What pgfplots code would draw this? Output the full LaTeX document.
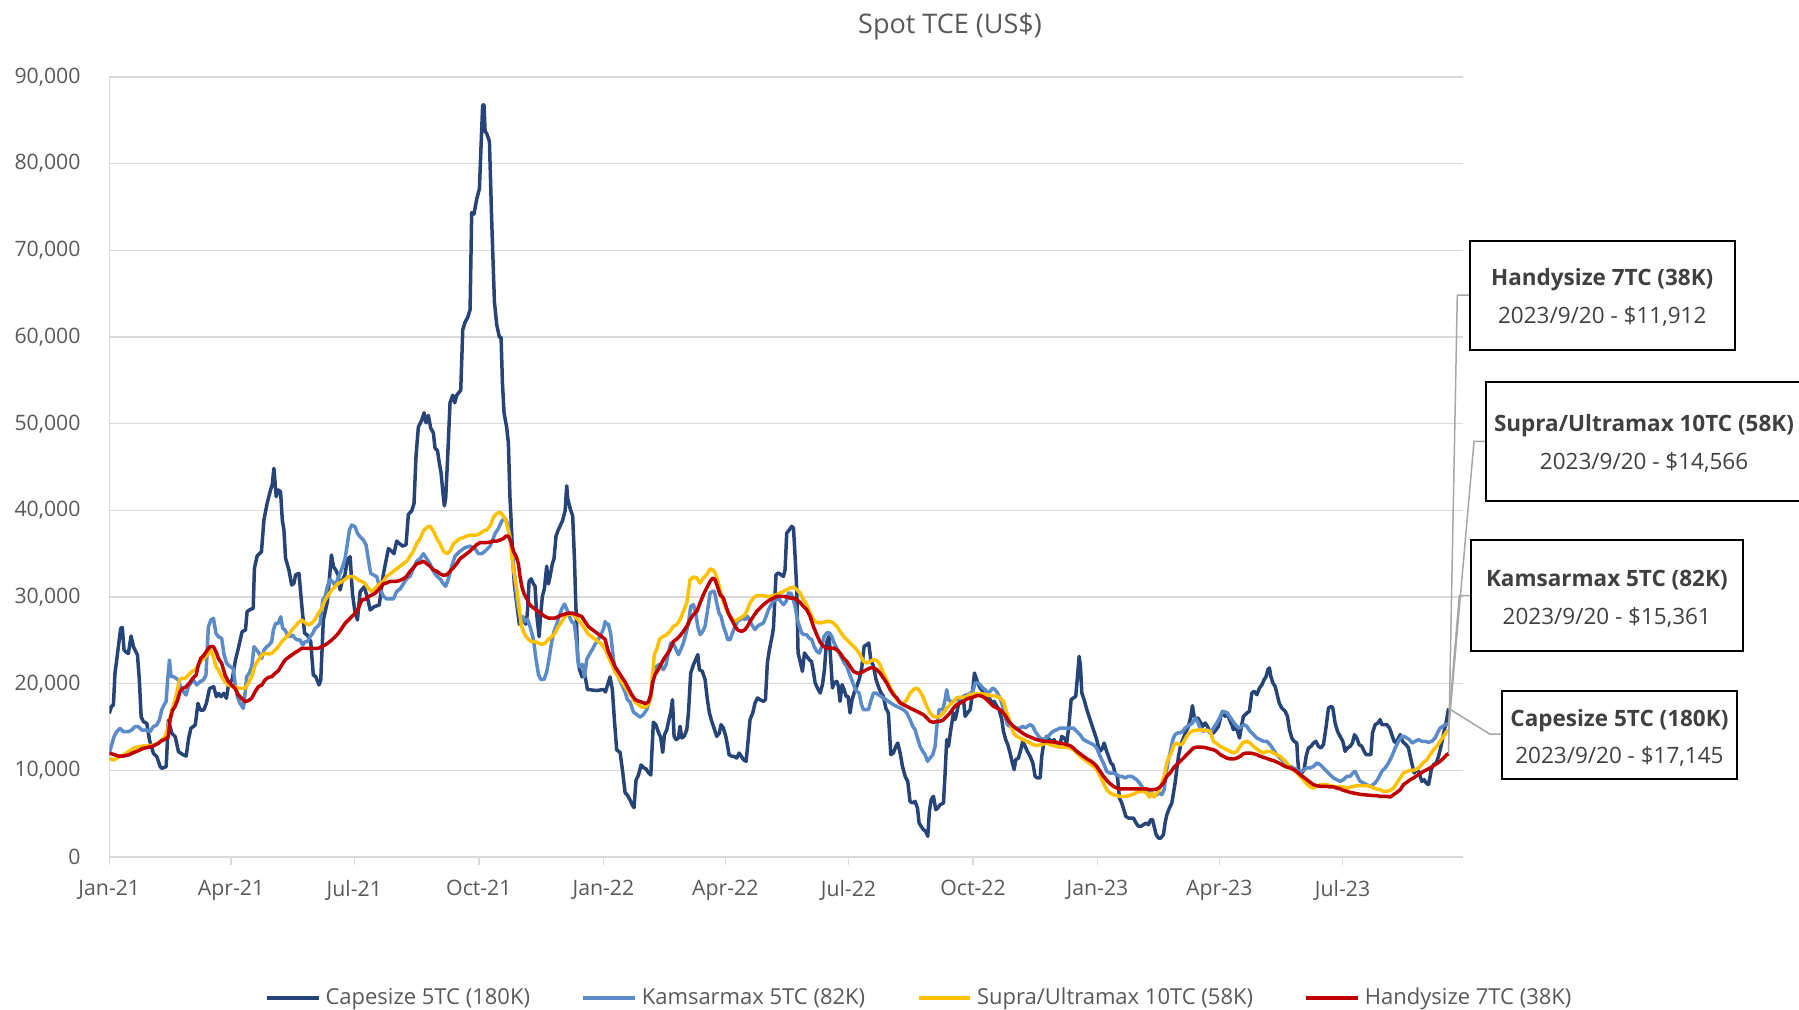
\documentclass[border=0pt]{standalone}
\usepackage{fontspec}
\setmainfont{Open Sans}
\usepackage{pgfplots}
\pgfplotsset{compat=1.18}
\definecolor{cape}{HTML}{264478}
\definecolor{kams}{HTML}{5B8BC8}
\definecolor{supra}{HTML}{FFC000}
\definecolor{handy}{HTML}{C00000}
\definecolor{gridc}{HTML}{D9D9D9}
\definecolor{txt}{HTML}{595959}
\definecolor{boxtxt}{HTML}{404040}
\definecolor{leader}{HTML}{A6A6A6}
\begin{document}
\begin{tikzpicture}[x=0.4pt,y=0.4pt]
\useasboundingbox (0,0) rectangle (1799,1009);
\begin{axis}[
  at={(43.72pt,60.8pt)}, anchor=south west,
  scale only axis, width=541.48pt, height=312pt,
  xmin=0, xmax=1000, ymin=0, ymax=90000,
  axis x line=bottom, axis y line=left,
  axis line style={-, draw=gridc, line width=0.6pt},
  ymajorgrids, major grid style={draw=gridc, line width=0.6pt},
  xtick={0,90,181,273,365,455,546,638,730,820,911},
  xticklabels={Jan-21,Apr-21,Jul-21,Oct-21,Jan-22,Apr-22,Jul-22,Oct-22,Jan-23,Apr-23,Jul-23},
  ytick={0,10000,...,90000},
  xtick style={draw=gridc, line width=0.6pt},
  ytick style={draw=none},
  tick align=outside, major tick length=3pt,
  scaled y ticks=false,
  /pgf/number format/.cd, 1000 sep={,}, assume math mode=true, /pgfplots/.cd,
  tick label style={font=\fontsize{8.5}{10}\selectfont, text=txt},
  yticklabel style={xshift=-5pt},
  xticklabel style={yshift=-2.8pt},
  legend style={at={(0.5995,-0.181)}, anchor=center, legend columns=4, draw=none, fill=none,
    font=\fontsize{8.8}{10}\selectfont, text=txt,
    /tikz/every even column/.append style={column sep=18.6pt}},
  legend image code/.code={\draw[#1, line width=1.4pt] (0pt,0pt) -- (20.7pt,0pt);},
  every axis plot/.append style={line width=1.4pt, line join=round, mark=none},
]
\addplot[cape] coordinates {
(0,16580)(1.7,17420)(3,17500)(4.2,21190)(6.7,24270)(8.4,26380)(9.6,26500)(10.9,23880)(12.8,23580)(14.1,23500)(16.1,25500)(17.8,24270)(20.8,23310)(22.2,20420)(23.5,16190)(25.2,15620)(27.7,15420)(29.7,13500)(32.6,11960)(35.1,11580)(37.6,10420)(38.8,10230)(42,10420)(43.7,15810)(46.2,14270)(48.7,13880)(51.1,12150)(54.9,11770)(56.8,11650)(58.6,13690)(60.3,14850)(63.5,15230)(65.5,17730)(67.2,16960)(69.7,16960)(71.7,17730)(74.1,19460)(77.1,19650)(79.1,18500)(80.8,18880)(82.5,18500)(84.5,18880)(86.5,18310)(88.2,20040)(90.7,20420)(93.2,22730)(95.6,24270)(98.1,26000)(100.6,26190)(101.8,28310)(104.3,28580)(106.3,28690)(107.2,33310)(109.2,34730)(112.4,35230)(114.2,38880)(116.6,40810)(119.1,42350)(120.3,42920)(121.6,44840)(123.3,41580)(124.8,42350)(126.5,42150)(127.8,38880)(129,37730)(130.2,34460)(132.7,33110)(134.7,31380)(136.4,31580)(137.6,32540)(140.1,32730)(142.6,28310)(144.3,25810)(146.3,25610)(148.8,24850)(150.7,21000)(152.5,20810)(154.9,19850)(156.2,20420)(158.1,27350)(161.1,29460)(164.1,34850)(165.6,33500)(167.3,33110)(169,32540)(170.5,30810)(172.2,31960)(174,32540)(175.9,34270)(177.9,34650)(179.6,30420)(181.4,28310)(183.3,27350)(185.3,30610)(188.3,31190)(190.8,29850)(192.7,28500)(195.7,28880)(199.4,29080)
(202.5,32680)(206.2,35580)(208.6,35290)(210.3,35000)(212.3,36450)(214.3,36160)(216.7,35870)(219.2,36040)(220.9,39530)(223.4,39930)(225.1,40800)(226.6,46320)(228.3,49620)(230.8,50380)(232.5,51250)(234,50090)(235.7,50960)(237.4,49510)(239.4,48930)(240.6,47190)(242.4,46900)(243.8,45450)(245.1,44290)(246.3,42250)(247.5,40510)(248.5,41380)(250,46320)(251.7,52410)(253.7,53280)(255.2,52410)(256.6,53280)(259.6,53860)(261.1,60830)(262.8,61700)(264.8,62280)(266.5,63150)(267.7,74350)(269.4,74180)(271.4,75920)(273.4,77080)(274.6,82010)(275.8,86770)(276.8,86770)(277.6,83750)(278.8,83460)(280.8,82590)(282.5,73300)(284.5,64020)(286.2,61410)(288.2,59960)(289.4,59960)(290.4,54730)(291.6,51250)(293.6,49510)(294.8,47770)(296,41380)(297.3,37320)(298,34420)(299.2,31520)(301,29190)(302.9,26870)(304.2,27160)(305.9,27450)(307.6,26870)(308.8,28030)(310.1,31810)(311.6,32100)(313.3,31520)(314.5,31230)(315.7,28030)(317.5,25420)(318.7,28030)(319.9,30070)(321.4,30940)(323.1,33550)(324.4,31520)(325.6,32390)(327.3,33840)(328.5,34420)(330,37030)(331.3,37610)(333,38190)(334.7,38770)(336.7,39930)(337.9,42830)(338.6,41380)(340.4,40220)(342.3,39350)(343.6,34420)(344.6,29190)(346,23100)(347.3,21650)(349.2,20780)(350.7,21360)(351.9,20490)(353.2,19330)(360.1,19210)(365,19330)(366.5,19040)(368.2,19910)(369.9,20780)(371.6,19330)(373.1,15850)(374.8,12360)(377.3,12070)(379.3,9750)(381,7430)(382.7,7140)(384.7,6560)(386.4,5980)(387.6,5690)(389.1,8880)(390.9,9460)(392.8,10620)(394.5,10330)(396.5,10160)(398.2,9750)(400,9460)(401.9,15560)(403.7,15270)(405.6,14390)(407.3,13810)(408.8,12070)(410.1,14100)(411.8,14680)(413.8,16140)
(414.7,16620)(416,18150)(417.2,13920)(418.7,13540)(420.4,13730)(421.6,15080)(422.9,13730)(424.6,13920)(426.6,14690)(427.8,16620)(429.5,21230)(431.5,22190)(433.2,22770)(434.7,23350)(435.9,21620)(438.1,21420)(440.1,20460)(441.8,18150)(443.3,16620)(445,15650)(446.7,14880)(448.7,13920)(450.7,14310)(451.9,15270)(453.6,14880)(455.4,13920)(456.6,12960)(457.8,11810)(459.8,11620)(461.5,11620)(463.5,11420)(465.2,12000)(466.9,11620)(468.4,11230)(470.4,11040)(471.6,12960)(473.3,15850)(475.3,16620)(477,17770)(478.8,18350)(480.7,18150)(483.2,17960)(484.7,18150)(486.1,22380)(487.6,23920)(489.6,25460)(490.6,26420)(492.5,32580)(494.3,32770)(496,32580)(498,32380)(499.2,33150)(500.4,37380)(502.4,37770)(504.1,38150)(505.4,37960)(506.6,34690)(507.8,30850)(508.8,23540)(510.3,22580)(512,21420)(513.5,23540)(515.2,23150)(517,22770)(518.7,22580)(520.1,21420)(521.4,20080)(523.1,19500)(525.1,18920)(526.8,19880)(528.3,21620)(529.5,24310)(530.5,25080)(531.7,25460)(532.9,22770)(534.2,19500)(535.4,20080)(537.4,20270)(538.6,19690)(539.8,17960)(541.3,19880)(542.8,19310)(544.3,18540)(545.7,18540)(547.2,16620)(548.7,18150)(550.2,18920)(552.1,19690)(553.9,20460)(555.8,21810)(557.6,24310)(559.5,24500)(561,24690)(562.5,22770)(564.5,22000)(566.4,20460)(568.1,19690)(570.1,18920)(571.8,18540)(573.6,17190)(575.5,16620)(577.3,11810)(579.2,12000)(581,12770)(582.4,13150)(584.2,12000)(585.9,10460)(587.9,9310)(589.8,8730)(591.5,6420)(593.3,6230)(595.2,6420)(597,5650)(598.2,3920)(599.7,3540)(601.4,3150)(603.1,2960)(604.6,2390)(605.8,5270)(607.1,6620)(608.8,7000)(610.5,5460)(612,5650)(613.7,6040)
(616.2,6230)(617.4,9690)(618.6,13540)(619.9,12770)(621.6,14690)(623.6,16620)(624.8,15850)(626,16620)(627.2,17580)(629,18150)(631,18150)(632.2,16230)(633.9,16620)(635.9,17000)(637.6,18920)(639.1,21230)(640.3,20650)(641.5,20080)(643.3,19500)(645.2,19120)(647,18540)(648.2,18150)(650.1,18350)(651.9,17770)(653.6,17960)(655.6,17380)(657.3,17000)(659.3,15850)(660.5,14500)(662.2,13540)(663.7,12960)(665.4,12000)(667.1,10850)(668.4,10080)(669.6,11230)(671.6,11420)(673.3,12380)(674.8,13350)(676.5,12770)(678.2,12190)(680.2,11620)(682.2,10850)(683.9,9310)(685.6,9120)(687.6,9120)(688.8,11620)(690.5,13350)(692.5,13920)(694.5,13540)(696.2,13350)(697.9,13540)(699.9,12770)(701.9,12770)(703.6,13920)(705.3,13730)(707.3,13230)(708.8,15080)(710.5,18150)(712.2,18350)(713.9,18540)(715.2,20850)(716.4,23150)(717.4,22000)(718.4,18920)(720.1,18150)(722.1,17000)(724.5,15850)(727,14690)(729.4,13540)(731.4,12190)(733.1,12380)(734.9,13150)(736.3,12380)(738.1,11620)(739.8,10850)(741.3,10650)(743,9690)(744.7,9310)(746.2,6810)(747.9,6230)(749.1,5650)(750.9,4690)(752.8,4500)(754.6,4500)(756.5,4500)(758.5,3920)(760.2,3540)(762.2,3540)(763.9,3730)(765.9,3920)(767.6,3730)(769.3,4310)(770.6,4310)(771.8,3540)(773.3,2580)(775,2190)(776.7,2190)(778.7,2580)(779.9,3920)(781.2,4890)(783.1,5650)(784.9,6230)(786.1,7380)(787.3,8540)(788.5,10080)(789.8,11620)(791.5,12960)(793.5,13730)(795.4,14500)(797.2,15080)(798.9,16230)(800.1,17460)(801.4,16230)(802.6,15850)(804.1,16040)
(807.8,15080)(809.5,15460)(811.2,15080)(813.2,14310)(815.6,14310)(817.6,14690)(819.3,15080)(821.1,16230)(822.5,16810)(824.3,16230)(826,16620)(827.5,15850)(829.2,15270)(830.4,14690)(832.1,15080)(833.4,14500)(834.9,13730)(836.3,15080)(837.8,16230)(840.3,16620)(842.2,16810)(844,18920)(845.7,19120)(847.7,18730)(849.6,19500)(851.4,19880)(853.1,20460)(854.6,20850)(855.8,21620)(857,21810)(858,20850)(859.5,20080)(861.2,19690)(862.4,18920)(864.2,17770)(866.1,17190)(868.6,16810)(870.3,16230)(871.8,14690)(873.5,13730)(875.2,13350)(877.2,13150)(877.9,11230)(878.7,9880)(880.9,9690)(882.6,10080)(884.1,11620)(885.8,12580)(887.8,12770)(889.5,13150)(891.3,13350)(893.2,12770)(895,12580)(896.9,12960)(898.9,15080)(900.6,17190)(902.6,17380)(903.8,17190)(905.5,15460)(907.3,14500)(909.2,13920)(911.2,13350)(912.9,12190)(914.6,12580)(916.6,12770)(918.3,13150)(919.8,14120)(921.5,13730)(923.3,12960)(925.2,12770)(927,12190)(928.4,11810)(930.2,11810)(931.9,11810)(933.1,14310)(935.1,15270)(937.1,15460)(938.8,15850)(940,15270)(941.7,15270)(943.7,15270)(945.7,14880)(947.4,14120)(949.1,13350)(950.6,13150)(952.3,13730)(953.6,14120)(955.3,13350)(956.5,13150)(958,12960)(959.7,12580)(961,11620)(962.7,10460)(963.9,9690)(965.4,10080)(967.1,9880)(968.3,9310)(969.6,8730)(971.3,8920)(972.8,8540)(974.5,8350)(975.7,9310)(976.5,10080)(978.2,10650)(980.2,10850)(981.9,11620)(983.1,12380)(984.8,13540)(986.3,14690)(988,15920)(989.3,17145)
};
\addlegendentry{Capesize 5TC (180K)}
\addplot[kams] coordinates {
(0,11960)(1.7,12920)(3.5,13880)(5.4,14460)(7.9,14850)(10.4,14460)(14.1,14460)(16.5,14650)(19,15040)(21.5,15040)(23.9,14650)(27.6,14650)(30.1,14460)(32.5,15040)(35,15230)(37,15810)(38.7,16960)(40.4,17540)(41.9,17920)(43.1,20420)(44.4,22730)(45.6,20810)(47.3,20810)(49.3,20620)(51,20420)(53,19460)(54.7,19080)(56.7,18690)(58.4,19650)(60.1,20040)(62.1,20420)(64.6,19850)(67,20230)(69.5,20420)(71.4,21000)(73.2,26580)(75.1,27350)(76.9,27540)(78.8,25810)(80.6,25420)(83,25230)(84.8,23310)(86.7,22350)(89.2,21960)(91.6,21770)(92.9,20040)(94.6,18500)(96.6,17730)(99,17150)(100.3,18880)(101.5,20810)(103.2,21190)(105.2,21960)(106.9,24270)(108.9,23880)(110.6,23500)(112.6,22920)(114.3,23880)(116.3,24270)(118,24460)(120,24850)(121.2,26190)(122.9,26960)(124.9,26960)(126.6,27730)(128.1,26380)(129.8,26190)(131.6,25610)(133.5,25420)(135.5,25610)(137.2,25230)(139,25040)(140.9,25040)(142.9,24460)(144.6,24850)(146.3,24850)(148.3,25420)(150.3,25810)(152,26380)(153.7,26580)(155.7,26960)(157.7,29650)(159.4,30040)(161.1,31190)(163.1,32040)(164.8,31770)(166.8,31380)(168.5,31960)(170.5,32730)(172.4,33500)(174.2,34460)(175.9,36190)(177.4,37730)(179.1,38310)(181.5,38110)(183.3,37350)(185.2,36960)(187.7,36580)(189.7,36000)(191.4,34270)(193.1,32730)(195.1,32540)(197.6,32350)
(200,30940)(202.5,30070)(204.9,29780)(207.4,29780)(209.9,29780)(212.3,30650)(214.8,30940)(217.2,31520)(219.7,32100)(222.2,32390)(224.6,33260)(227.1,34130)(229.6,34420)(232,35000)(234.5,34420)(236.9,33840)(239.4,32970)(241.9,32390)(244.3,32100)(246.8,31520)(248.5,31230)(250.5,32100)(252.9,33550)(255.4,34710)(259.1,35290)(262.8,35690)(266.5,35870)(270.2,35580)(272.6,35000)(275.1,35000)(277.6,35290)(281.3,35870)(285,37320)(287.4,37900)(289.9,38770)(292.3,39060)(294.3,38480)(296,37030)(298,34420)(299.7,32100)(301.5,29190)(303.4,27740)(305.4,27740)(307.1,27160)(308.8,27450)(310.8,26580)(313.3,25130)(315.2,22810)(317,21070)(318.7,20490)(321.2,20490)(323.1,21360)(325.1,23100)(326.8,24840)(328.5,26000)(330.5,26870)(332.2,27740)(334.2,28610)(336.2,29190)(337.9,28610)(339.9,27740)(341.6,27160)(343.6,26870)(345.3,24550)(346.5,22230)(347.8,21940)(349.5,22230)(351,20780)(352.7,22810)(354.7,23390)(356.9,23970)(358.8,24550)(361.3,25130)(363.3,25710)(365,26290)(366.2,27160)(367.5,26870)(368.7,26870)(370.4,25710)(372.4,22810)(374.1,21360)(376.1,20780)(378.5,19910)(381,19040)(382.7,18170)(384.7,17880)(387.2,16720)(389.6,16430)(392.1,16140)(394.5,16430)(397,17010)(399.5,18170)(401.9,20490)(403.9,21940)(406.4,22230)
(409.3,21620)(411.3,22190)(413,23540)(414.7,24690)(416.7,24690)(418.7,23920)(420.4,23350)(422.1,23920)(424.1,24690)(426.1,25850)(427.8,27000)(429.5,28920)(431.5,29110)(433.2,28150)(434.7,26620)(436.4,25650)(438.4,26040)(440.1,26620)(441.8,28350)(443.8,30460)(445.5,30650)(447,30650)(448.7,29310)(450.4,28150)(451.9,27770)(453.6,26620)(455.4,25850)(456.8,25080)(458.6,25080)(460.3,25850)(462.3,26620)(464,27190)(466,27380)(467.7,27580)(469.6,27380)(471.4,27770)(473.3,27190)(475.3,26620)(477,26230)(478.8,26620)(480.7,26810)(483.2,27000)(485.2,27770)(486.9,28540)(488.9,29110)(490.6,29500)(492.5,29690)(494.3,29880)(496,29500)(498,29110)(500,29500)(501.7,30460)(503.4,30460)(504.9,29880)(506.6,28920)(508.3,27380)(509.8,26620)(511.5,25850)(513.2,25650)(515.2,25650)(516.9,25270)(518.9,25080)(520.6,24310)(522.6,23730)(524.6,23540)(526.3,24310)(528,25460)(530,25850)(532,25850)(533.7,25460)(535.4,24690)(537.4,24110)(539.1,23540)(541.1,22960)(542.8,22380)(544.8,22000)(546.5,21230)(548.4,20460)(550.2,19690)(552.1,19120)(553.9,18920)(555.6,17580)(557.1,17000)(559,17000)(560.8,17000)(562.5,17960)(564.5,18920)(566.4,18920)(568.1,18730)(570.1,18540)(571.8,18350)(573.8,18150)(575.5,17960)(577.3,17770)(579.2,17580)(581.7,17380)(584.2,17190)(586.6,17000)(589.1,16620)(591.5,15850)(593.5,15080)(595.2,14690)(597,13730)(598.9,12770)(600.9,12190)(602.6,11810)(604.4,11040)(606.3,11420)(608.3,11810)(610,12770)(611.3,15080)(613,17000)
(615.7,17000)(617.4,18150)(618.6,19310)(619.9,18150)(621.6,17960)(623.6,17960)(625.5,18150)(627.2,18150)(629,18150)(631,18540)(632.9,18730)(634.6,18730)(636.4,18920)(638.3,19310)(639.6,20080)(641.3,20080)(643.3,19880)(645.2,19500)(647,19310)(648.7,18920)(650.6,19120)(652.6,19500)(654.3,19310)(656.1,18920)(658,18350)(660,17380)(661.7,16230)(663.4,15270)(665.4,15080)(667.4,15080)(669.1,14880)(670.8,14880)(672.8,14880)(674.8,15080)(676.5,14880)(678.2,15080)(680.2,15270)(682.2,15080)(683.9,14500)(685.6,14120)(687.6,13730)(690,13540)(692,13730)(693.7,13920)(695.7,14310)(697.4,14500)(699.9,14690)(702.4,14880)(704.8,14880)(707.3,14880)(709.7,14880)(712.2,14880)(714.7,14500)(717.1,14120)(719.6,13540)(722,13350)(724.5,13150)(727,12960)(729.4,12580)(731.4,11810)(733.1,11230)(734.9,10650)(736.8,9880)(738.8,9690)(740.5,9690)(742.2,9690)(744.2,9500)(746.2,9310)(747.9,9310)(750.4,9120)(752.8,9310)(755.3,9310)(757,9120)(759,8920)(761,8540)(762.7,8150)(764.4,7770)(766.4,7580)(768.3,7770)(770.1,7380)(771.8,7000)(773.8,7190)(775.7,7380)(777.5,7190)(779.2,7770)(780.7,9690)(782.4,11230)(784.1,12380)(785.6,13540)(787.3,14120)(789,14310)(791,14310)(793,14500)(794.7,14880)(796.4,15080)(798.4,15270)(800.1,15460)(802.1,16040)(803.8,15650)
(805.8,14880)(808.3,14500)(810.7,14690)(813.2,14310)(815.6,14880)(818.1,15460)(820.1,16040)(821.8,16620)(823.5,16810)(825.5,16620)(827.5,16230)(829.2,15850)(830.9,15460)(832.9,15080)(834.9,14880)(836.6,15080)(838.3,15270)(840.3,15080)(842.7,14500)(845.2,14120)(847.7,13730)(850.1,13540)(852.6,13350)(855,13350)(857.5,12960)(860,12380)(862.4,11810)(864.9,11420)(867.4,11040)(869.8,10650)(872.3,10460)(874.8,10270)(877.2,10080)(879.7,9690)(882.1,10080)(884.6,10270)(887.1,10270)(889.5,10460)(892,10850)(894.5,10650)(896.9,10270)(899.4,9880)(901.8,9500)(904.3,9120)(906.8,8920)(909.2,8730)(911.7,8920)(914.2,9310)(916.6,9310)(918.6,9690)(920.3,9880)(922,9310)(924,8730)(926.5,8540)(928.9,8350)(931.4,8150)(933.4,8350)(935.1,8540)(937.6,9120)(940,9880)(942.5,10270)(944.9,10850)(947.4,11620)(949.9,12580)(952.3,13350)(954.8,13920)(956.5,13920)(958.5,13730)(960.4,13540)(962.4,13150)(964.6,13350)(967.1,13540)(969.6,13350)(972,13350)(974.5,13230)(976.9,13350)(979.4,13730)(981.1,14310)(983.1,14880)(985.1,15080)(986.8,15270)(989.3,15361)
};
\addlegendentry{Kamsarmax 5TC (82K)}
\addplot[supra] coordinates {
(0,11380)(3,11190)(6.7,11500)(10.4,11770)(14.1,12150)(17.8,12540)(21.5,12730)(25.1,12810)(28.8,12810)(32.5,12920)(36.2,13120)(38.7,13500)(41.2,13880)(43.6,15040)(45.6,16580)(47.8,17730)(49.8,18880)(51.7,20420)(53.5,20620)(55.9,20620)(58.4,21000)(60.9,21380)(63.3,21580)(65.8,22150)(68.2,22730)(70.7,23040)(73.2,23500)(74.9,23880)(76.9,23120)(78.8,21960)(80.6,21580)(83,20810)(85.5,20230)(88,19850)(90.4,19650)(92.9,19650)(95.3,19460)(97.8,19460)(100.3,19460)(102.7,20040)(105.2,20810)(107.7,22150)(110.1,22730)(112.6,23310)(115,23500)(117.5,23420)(120,23500)(122.4,23880)(124.9,24270)(127.4,24850)(129.8,25230)(132.3,25610)(134.8,26190)(137.2,26580)(139.7,27040)(142.1,27350)(144.6,27040)(147.1,26770)(149.5,26960)(152,27420)(154.5,28120)(156.9,28690)(159.4,29650)(161.8,30230)(164.3,30810)(166.8,31190)(169.2,31580)(171.7,31770)(174.2,32040)(176.6,32350)(179.1,32350)(181.5,32270)(184,31960)(186.5,31770)(188.9,31580)(191.4,31000)(193.9,30610)(196.3,31000)(198.8,31380)
(202.5,31810)(204.9,32390)(207.4,32680)(209.9,32970)(212.3,33260)(214.8,33550)(217.2,33840)(219.7,34130)(222.2,34710)(224.6,35290)(227.1,36160)(229.6,36740)(232,37610)(234.5,38020)(236.9,38190)(239.4,37610)(241.9,36740)(244.3,36160)(246.8,35290)(249.3,35000)(251.7,35290)(254.2,36160)(256.6,36450)(259.1,36740)(261.6,36860)(264,37030)(266.5,37150)(269,37150)(271.4,37150)(273.9,37320)(276.3,37610)(278.8,37730)(281.3,38190)(283.7,39180)(286.2,39640)(288.7,39760)(291.1,39350)(293.1,38770)(294.8,37610)(296.5,36160)(298,33840)(299.7,32100)(301.5,30360)(302.9,28610)(304.2,26870)(305.9,26000)(307.9,25420)(309.6,25130)(312,24840)(314.5,24840)(317,24670)(319.4,24550)(321.9,24670)(324.4,25130)(326.8,25420)(329.3,25830)(331.7,26580)(334.2,27160)(336.7,27740)(339.1,28030)(341.6,28030)(344.1,27740)(346.5,27340)(349,26870)(351.4,26290)(353.9,25710)(356.4,25420)(358.8,25130)(361.3,24840)(363.8,24550)(366.2,23970)(368.7,23100)(371.2,22230)(373.6,21360)(376.1,20780)(378.5,20200)(381,19620)(383.5,19040)(385.9,18460)(388.4,17880)(390.9,17590)(393.3,17300)(395.8,17300)(398.2,17590)(400,18460)(401.4,21360)(402.7,23390)(404.4,23970)(406.4,25130)
(409.3,25460)(411.8,25650)(414.2,26040)(416.7,26620)(419.2,26810)(421.6,27380)(424.1,28350)(426.6,29310)(429,32000)(431.5,32310)(434,32190)(436.4,31610)(438.9,32190)(441.3,32580)(443.8,33230)(445.8,33150)(447.5,32770)(449.2,32000)(451.2,30850)(453.1,29690)(454.9,28920)(456.8,28150)(458.6,27770)(460.5,27380)(462.3,27190)(464,27380)(466,27580)(467.9,27770)(469.6,27960)(471.4,28540)(473.3,29310)(475.8,29880)(478.3,30150)(480.7,30150)(483.2,30150)(485.7,30080)(488.1,30080)(490.6,30150)(493,30270)(495.5,30460)(498,30650)(500.4,30850)(502.9,31040)(505.4,31150)(507.8,30850)(510.3,30460)(512.7,29690)(515.2,29110)(517.7,28150)(520.1,27380)(522.6,27080)(525.1,27000)(527.5,27080)(530,27190)(532.4,27190)(534.9,27000)(537.4,26620)(539.8,26040)(542.3,25460)(544.8,25080)(547.2,24690)(549.7,24310)(552.1,23920)(554.6,23350)(557.1,22580)(559.5,22380)(562,22580)(564.5,22770)(566.9,22690)(569.4,22190)(571.8,21230)(574.3,20460)(576.8,19500)(579.2,18920)(581.7,18150)(584.2,17770)(586.6,17690)(589.1,18150)(591.5,18920)(594,19310)(596.5,19500)(598.9,19120)(601.4,18350)(603.9,17380)(606.3,16620)(608.8,16230)(611.3,16150)
(613.7,16230)(616.2,16620)(618.6,17190)(621.1,17580)(623.6,17960)(626,18350)(628.5,18460)(630.9,18350)(633.4,18540)(635.9,18730)(638.3,18810)(640.8,18850)(643.3,18850)(645.7,18810)(648.2,18730)(650.6,18620)(653.1,18620)(655.6,18540)(658,18350)(660.5,17960)(663,16620)(665.4,15460)(667.9,14310)(670.3,13920)(672.8,13730)(675.3,13540)(677.7,13350)(680.2,13150)(682.7,12960)(685.1,12850)(687.6,12960)(690,13040)(692.5,13150)(695,12960)(697.4,12850)(699.9,12770)(702.4,12690)(704.8,12690)(707.3,12690)(712.2,12380)(714.7,12000)(717.1,11620)(719.6,11310)(722,11040)(724.5,10770)(727,10460)(729.4,10080)(731.9,9310)(734.4,8540)(736.8,7770)(739.3,7380)(741.8,7190)(744.2,7080)(746.7,7000)(749.1,7000)(751.6,7000)(754.1,7120)(756.5,7270)(759,7460)(761.5,7580)(763.9,7580)(766.4,7380)(768.3,6920)(770.1,7380)(771.8,6920)(773.8,7380)(775.7,7770)(777.5,8540)(779.2,9310)(781.2,10850)(783.1,11620)(784.9,12190)(786.6,12960)(788.5,13150)(790.5,12960)(792.2,12960)(793.9,13350)(795.9,13920)(797.9,14310)(799.6,14500)(801.3,14620)(803.3,14620)
(805.8,14690)(808.3,14620)(810.7,14620)(813.2,14500)(815.6,13350)(818.1,13080)(820.6,12770)(823,12580)(825.5,12380)(828,12190)(830.4,12000)(832.9,12190)(835.4,12770)(837.8,13230)(840.3,13350)(842.7,13150)(845.2,12770)(847.7,12460)(850.1,12190)(852.6,12000)(855,12190)(857.5,12190)(860,12000)(862.4,11810)(864.9,11620)(867.4,11230)(869.8,10850)(872.3,10270)(874.8,10080)(877.2,9690)(879.7,9310)(882.1,8920)(884.6,8460)(887.1,8080)(889.5,7960)(892,8150)(894.5,8350)(896.9,8350)(899.4,8350)(901.8,8230)(904.3,8150)(906.8,8080)(909.2,8150)(911.7,8080)(914.2,7960)(916.6,8040)(919.1,8150)(921.5,8230)(924,8230)(926.5,8230)(928.9,8230)(931.4,8150)(933.9,7960)(936.3,7850)(938.8,7770)(941.2,7580)(943.7,7580)(946.2,7690)(948.6,7960)(951.1,8540)(953.6,9120)(956,9690)(958.5,9880)(961,10000)(963.4,10000)(965.9,10150)(968.3,10460)(970.8,10920)(973.3,11230)(975.7,11810)(978.2,12380)(980.6,12770)(983.1,13350)(985.6,13920)(988,14500)(989.3,14566)
};
\addlegendentry{Supra/Ultramax 10TC (58K)}
\addplot[handy] coordinates {
(0,11960)(3,11850)(6.7,11650)(10.4,11650)(14.1,11770)(17.8,12040)(21.5,12270)(25.1,12540)(28.8,12650)(32.5,12810)(36.2,13120)(38.7,13420)(41.2,13580)(43.6,13880)(44.8,15810)(46.8,16960)(48.5,17350)(50.5,18120)(52.2,19080)(54.2,19460)(56.7,19650)(59.1,20040)(61.6,20620)(64.1,21000)(65.8,22150)(67.5,22920)(70,23310)(72.4,23880)(74.4,24270)(76.9,24270)(78.8,23690)(80.6,22920)(83,22350)(85.5,21000)(88,20230)(90.4,19850)(92.9,19460)(95.3,18690)(97.8,18310)(100.3,17920)(102.7,18040)(105.2,18310)(107.7,19080)(110.1,19650)(112.6,19850)(115,20420)(117.5,20730)(120,20810)(122.4,21190)(124.9,21500)(127.4,22150)(129.8,22730)(132.3,23040)(134.8,23310)(137.2,23580)(139.7,23810)(142.1,24080)(144.6,24080)(147.1,24080)(149.5,24080)(152,24080)(154.5,24080)(156.9,24270)(159.4,24460)(161.8,24730)(164.3,25040)(166.8,25420)(169.2,25810)(171.7,26380)(174.2,26960)(176.6,27350)(179.1,27730)(181.5,28120)(184,28690)(186.5,29650)(188.9,29730)(191.4,30040)(193.9,30230)(196.3,30420)(198.8,30810)
(202.5,31520)(204.9,31630)(207.4,31810)(209.9,31810)(212.3,31810)(214.8,31920)(217.2,32100)(219.7,32390)(222.2,32970)(224.6,33370)(227.1,33840)(229.6,33950)(232,34130)(234.5,33840)(236.9,33550)(239.4,33140)(241.9,32970)(244.3,32680)(246.8,32500)(249.3,32560)(251.7,32970)(254.2,33370)(256.6,33840)(259.1,34420)(261.6,34710)(264,35000)(266.5,35290)(269,35690)(271.4,36040)(273.9,36280)(276.3,36280)(278.8,36280)(281.3,36330)(283.7,36450)(286.2,36450)(288.7,36570)(291.1,36740)(293.1,37030)(294.8,37030)(296.5,36450)(298.5,35290)(300.5,34710)(302.2,33840)(303.4,32390)(304.7,31230)(306.4,30360)(308.4,29780)(310.3,29190)(312,28900)(314.5,28610)(317,28320)(319.4,28030)(321.9,27740)(324.4,27570)(326.8,27570)(329.3,27570)(331.7,27740)(334.2,27920)(336.7,28030)(339.1,28150)(341.6,28150)(344.1,28030)(346.5,27920)(349,27740)(351.4,27160)(353.9,26580)(356.4,26290)(358.8,26000)(361.3,25710)(363.8,25420)(366.2,25130)(368.7,23680)(371.2,22810)(373.6,21940)(376.1,21360)(378.5,20780)(381,20200)(383.5,19440)(385.9,18750)(388.4,18170)(390.9,17990)(393.3,17880)(395.8,17700)(398.2,17880)(400,18750)(401.4,20200)(403.2,21070)(405.6,21650)
(409.3,22770)(411.8,23350)(414.2,23920)(416.7,24880)(419.2,25150)(421.6,25540)(424.1,26040)(426.6,26620)(429,27380)(431.5,27960)(434,28350)(436.4,29310)(438.9,30270)(441.3,31040)(443.8,31810)(445.8,32190)(447.5,32000)(449.2,31230)(451.2,30270)(453.6,29880)(455.6,28920)(457.3,28150)(459.1,27580)(461,27000)(463,26420)(464.7,26150)(467.2,26040)(469.6,26230)(471.4,26620)(473.3,27190)(475.8,27770)(478.3,28350)(480.7,28730)(483.2,29110)(485.7,29420)(488.1,29690)(490.6,29880)(493,30080)(495.5,30080)(498,30080)(500.4,30000)(502.9,29880)(505.4,29880)(507.8,29690)(510.3,29380)(512.7,28920)(515.2,28540)(517.7,27770)(520.1,26620)(522.6,25650)(525.1,24770)(527.5,24310)(530,24110)(532.4,24110)(534.9,24110)(537.4,23920)(539.8,23540)(542.3,22960)(544.8,22580)(547.2,22000)(549.7,21420)(552.1,21230)(554.6,21230)(557.1,21420)(559.5,21620)(562,21810)(564.5,21810)(566.9,21620)(569.4,21230)(571.8,20650)(574.3,20080)(576.8,19310)(579.2,18730)(581.7,18350)(584.2,17770)(586.6,17580)(589.1,17380)(591.5,17190)(594,17000)(596.5,16810)(598.9,16620)(601.4,16420)(603.9,16040)(606.3,15650)(608.8,15540)(611.3,15650)
(613.7,15650)(616.2,15850)(618.6,16230)(621.1,16620)(623.6,17190)(626,17580)(628.5,17770)(630.9,17960)(633.4,18230)(635.9,18350)(638.3,18460)(640.8,18620)(643.3,18620)(645.7,18460)(648.2,18150)(650.6,17770)(653.1,17380)(655.6,17190)(658,17000)(660.5,16620)(663,16040)(665.4,15460)(667.9,15080)(670.3,14770)(672.8,14500)(675.3,14230)(677.7,14000)(680.2,13850)(682.7,13690)(685.1,13540)(687.6,13460)(690,13350)(692.5,13350)(695,13310)(697.4,13270)(699.9,13230)(702.4,13150)(704.8,13080)(707.3,12960)(709.7,12850)(712.2,12580)(714.7,12190)(717.1,11920)(719.6,11620)(722,11350)(724.5,11120)(727,10850)(729.4,10460)(731.9,9880)(734.4,9310)(736.8,8850)(739.3,8460)(741.8,8150)(744.2,7960)(746.7,7850)(751.6,7850)(756.5,7850)(761.5,7850)(766.4,7850)(768.8,7770)(771.3,7770)(773.8,7850)(776.2,8080)(778.7,8540)(781.2,9310)(783.6,9690)(786.1,10270)(788.5,10650)(791,11040)(793.5,11420)(795.9,11810)(798.4,12190)(800.8,12580)(803.3,12690)
(805.8,12690)(808.3,12650)(810.7,12580)(813.2,12460)(815.6,12380)(818.1,12190)(820.6,11810)(823,11620)(825.5,11420)(828,11310)(830.4,11310)(832.9,11420)(835.4,11620)(837.8,11920)(840.3,12000)(842.7,12000)(845.2,11920)(847.7,11810)(850.1,11620)(852.6,11500)(855,11380)(857.5,11230)(860,11120)(862.4,10960)(864.9,10770)(867.4,10540)(869.8,10380)(872.3,10270)(874.8,10080)(877.2,9880)(879.7,9500)(882.1,9230)(884.6,8920)(887.1,8620)(889.5,8350)(892,8230)(894.5,8150)(899.4,8150)(901.8,8080)(904.3,8080)(906.8,7960)(909.2,7850)(911.7,7690)(914.2,7580)(916.6,7460)(919.1,7380)(921.5,7310)(924,7230)(926.5,7190)(928.9,7150)(931.4,7120)(933.9,7080)(936.3,7080)(938.8,7000)(943.7,7000)(946.2,6920)(948.6,7190)(951.1,7460)(953.6,7770)(956,8350)(958.5,8620)(961,8920)(963.4,9120)(965.9,9380)(968.3,9620)(970.8,9880)(973.3,10080)(975.7,10270)(978.2,10540)(980.6,10770)(983.1,11040)(985.6,11420)(988,11810)(989.3,11912)
};
\addlegendentry{Handysize 7TC (38K)}
\coordinate (capeend) at (axis cs:989.3,17145);
\coordinate (kamsend) at (axis cs:989.3,15361);
\coordinate (supraend) at (axis cs:989.3,14566);
\coordinate (handyend) at (axis cs:989.3,11912);
\end{axis}
% title
\node[text=txt, font=\fontsize{10.8}{12}\selectfont] at (950,982.6) {Spot TCE (US\$)};
% leader lines
\draw[leader, line width=0.6pt] (1469.7,713.8) -- (1457.3,713.8) -- (handyend);
\draw[leader, line width=0.6pt] (1485.8,567.7) -- (1474,567.7) -- (supraend);
\draw[leader, line width=0.6pt] (1470.8,413.5) -- (1459.3,413.5) -- (kamsend);
\draw[leader, line width=0.6pt] (capeend) -- (1490,274.8) -- (1501.8,274.8);
% boxes
\draw[black, line width=0.8pt, fill=white] (1469.7,659.1) rectangle (1734.7,768.1);
\draw[black, line width=0.8pt, fill=white] (1485.8,507.6) rectangle (1802,627);
\draw[black, line width=0.8pt, fill=white] (1470.8,358.5) rectangle (1742.7,468.6);
\draw[black, line width=0.8pt, fill=white] (1501.8,230) rectangle (1737,318.3);
\begin{scope}[every node/.style={text=boxtxt, inner sep=0pt}]
\node[font=\bfseries\fontsize{9}{11}\selectfont] at (1602.2,729.1) {Handysize 7TC (38K)};
\node[font=\fontsize{9}{11}\selectfont] at (1602.2,692.3) {2023/9/20 - \$11,912};
\node[font=\bfseries\fontsize{9}{11}\selectfont] at (1644,583.3) {Supra/Ultramax 10TC (58K)};
\node[font=\fontsize{9}{11}\selectfont] at (1644,546.6) {2023/9/20 - \$14,566};
\node[font=\bfseries\fontsize{9}{11}\selectfont] at (1606.8,428.5) {Kamsarmax 5TC (82K)};
\node[font=\fontsize{9}{11}\selectfont] at (1606.8,391.7) {2023/9/20 - \$15,361};
\node[font=\bfseries\fontsize{9}{11}\selectfont] at (1619.4,288.5) {Capesize 5TC (180K)};
\node[font=\fontsize{9}{11}\selectfont] at (1619.4,252.9) {2023/9/20 - \$17,145};
\end{scope}
\end{tikzpicture}
\end{document}
